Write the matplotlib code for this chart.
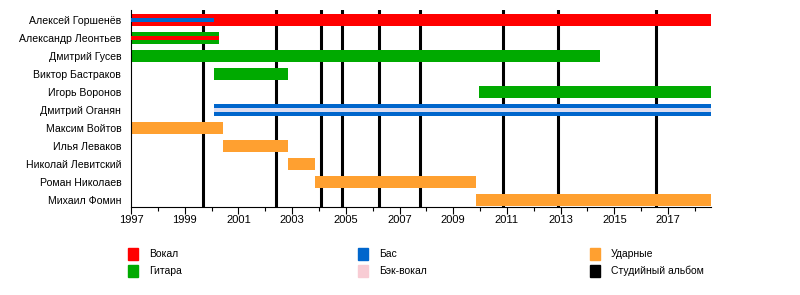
import matplotlib.pyplot as plt

# Участники (сверху вниз)
members = ['Алексей Горшенёв', 'Александр Леонтьев', 'Дмитрий Гусев',
           'Виктор Бастраков', 'Игорь Воронов', 'Дмитрий Оганян',
           'Максим Войтов', 'Илья Леваков', 'Николай Левитский',
           'Роман Николаев', 'Михаил Фомин']

start_year = 1997
end_year = 2018.6

# Основные роли: (участник, начало, конец, роль)
main_bars = [
    (0, 1997.0, 2018.6, 'vocal'),
    (1, 1997.0, 2000.28, 'guitar'),
    (2, 1997.0, 2014.48, 'guitar'),
    (3, 2000.09, 2002.85, 'guitar'),
    (4, 2009.97, 2018.6, 'guitar'),
    (5, 2000.09, 2018.6, 'bass'),
    (6, 1997.0, 2000.43, 'drums'),
    (7, 2000.43, 2002.85, 'drums'),
    (8, 2002.85, 2003.86, 'drums'),
    (9, 2003.86, 2009.86, 'drums'),
    (10, 2009.86, 2018.6, 'drums'),
]

# Дополнительные роли (тонкая полоса)
extra_bars = [
    (0, 1997.0, 2000.09, 'bass'),
    (1, 1997.0, 2000.28, 'vocal'),
    (5, 2000.09, 2018.6, 'backing'),
]

# Студийные альбомы
albums = [1999.69, 2002.40, 2004.09, 2004.85, 2006.25, 2007.75,
          2010.84, 2012.89, 2016.54]

colors = {
    'vocal': '#ff0000',
    'guitar': '#00aa00',
    'bass': '#0066cc',
    'backing': '#dcdcf0',
    'drums': '#ffa030',
    'album': '#000000',
}

legend_items = [('Вокал', '#ff0000'), ('Гитара', '#00aa00'),
                ('Бас', '#0066cc'), ('Бэк-вокал', '#f8ccd4'),
                ('Ударные', '#ffa030'), ('Студийный альбом', '#000000')]

plt.rcParams['font.family'] = ['Liberation Sans', 'DejaVu Sans']

fig = plt.figure(figsize=(8, 2.95), dpi=100)
ax = fig.add_axes([131 / 800, 88 / 295, 580 / 800, 197 / 295])

for x in albums:
    ax.axvline(x, color=colors['album'], lw=2.2, zorder=1)

for row, a, b, role in main_bars:
    ax.barh(row, b - a, left=a, height=0.67, color=colors[role], zorder=2)
for row, a, b, role in extra_bars:
    ax.barh(row, b - a, left=a, height=0.22, color=colors[role], zorder=3)

ax.set_xlim(start_year, end_year)
ax.set_ylim(10.39, -0.556)
ax.set_yticks(range(len(members)))
ax.set_yticklabels(members, fontsize=7.6)
ax.tick_params(axis='y', length=0, pad=7)

ax.set_xticks(range(1997, 2018, 2))
ax.set_xticklabels([str(y) for y in range(1997, 2018, 2)], fontsize=8)
ax.set_xticks(range(1998, 2019, 2), minor=True)
ax.tick_params(axis='x', which='major', length=5, width=0.8, pad=1)
ax.tick_params(axis='x', which='minor', length=3, width=0.8)

for s in ['top', 'right']:
    ax.spines[s].set_visible(False)
for s in ['left', 'bottom']:
    ax.spines[s].set_linewidth(0.8)

# Легенда
col_x = [128, 358, 590]
row_y = [254, 271]
for i, (label, c) in enumerate(legend_items):
    x = col_x[i // 2]
    y = row_y[i % 2]
    fig.patches.append(plt.Rectangle((x / 800, 1 - (y + 6) / 295), 10 / 800, 12 / 295,
                                     transform=fig.transFigure, color=c))
    fig.text((x + 21) / 800, 1 - y / 295, label, fontsize=7.5, va='center')

fig.savefig('out.png', dpi=100)
